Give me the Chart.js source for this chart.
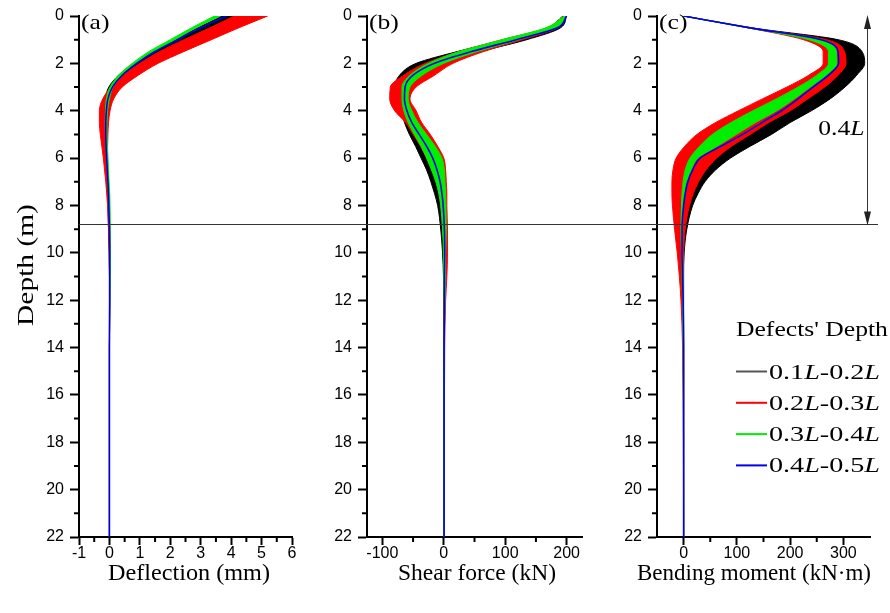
<!DOCTYPE html>
<html lang="en">
<head>
<meta charset="UTF-8">
<title>Deflection, shear force and bending moment along depth</title>
<script src="https://cdn.jsdelivr.net/npm/chart.js@4/dist/chart.umd.min.js"></script>
<style>
  html, body { margin: 0; padding: 0; background: #fff; }
  #wrap { position: relative; width: 890px; height: 613px; overflow: hidden; }
  .panel { position: absolute; top: 0; height: 613px; }
  #pa { left: 0; width: 300px; }
  #pb { left: 300px; width: 300px; }
  #pc { left: 600px; width: 290px; }
</style>
</head>
<body>
<div id="wrap">
  <div class="panel" id="pa"><canvas id="chartA"></canvas></div>
  <div class="panel" id="pb"><canvas id="chartB"></canvas></div>
  <div class="panel" id="pc"><canvas id="chartC"></canvas></div>
</div>
<script>
// depth of every sampled point (m), shared by all curves
const depths = [0, 0.5, 1, 1.5, 2, 2.5, 3, 3.5, 4, 4.5, 5, 5.5, 6, 6.5, 7, 7.5, 8, 9, 10, 11, 12, 14, 22];

// (a) deflection (mm): left / right edge of each band of curves, blue is a single line
const defBlackL = [3.7, 2.9, 2.15, 1.4, 0.8, 0.3, -0.02, -0.13, -0.16, -0.17, -0.17, -0.15, -0.13, -0.11, -0.09, -0.07, -0.05, -0.03, -0.01, 0, 0, 0, 0];
const defBlackR = [4.8, 3.9, 3.05, 2.2, 1.4, 0.78, 0.3, 0.06, -0.04, -0.07, -0.08, -0.08, -0.07, -0.06, -0.05, -0.04, -0.03, -0.01, 0.01, 0.01, 0.01, 0, 0];
const defRedL = [4.1, 3.3, 2.45, 1.65, 1.0, 0.45, 0.05, -0.22, -0.33, -0.33, -0.3, -0.25, -0.2, -0.16, -0.12, -0.09, -0.06, -0.03, -0.01, 0, 0, 0, 0];
const defRedR = [5.2, 4.25, 3.35, 2.45, 1.6, 0.95, 0.42, 0.14, 0.02, -0.03, -0.05, -0.06, -0.06, -0.05, -0.04, -0.03, -0.02, 0, 0.01, 0.01, 0.01, 0, 0];
const defGreenL = [3.45, 2.7, 2.0, 1.3, 0.75, 0.3, 0.02, -0.1, -0.13, -0.14, -0.13, -0.11, -0.09, -0.07, -0.05, -0.03, -0.01, 0.01, 0.02, 0.02, 0.01, 0, 0];
const defGreenR = [3.65, 2.85, 2.15, 1.45, 0.88, 0.42, 0.12, 0.0, -0.06, -0.08, -0.08, -0.07, -0.05, -0.03, -0.01, 0.01, 0.02, 0.03, 0.03, 0.02, 0.01, 0, 0];
const defBlue = [3.85, 3.0, 2.25, 1.5, 0.9, 0.42, 0.1, -0.05, -0.1, -0.12, -0.12, -0.11, -0.09, -0.07, -0.05, -0.03, -0.02, 0, 0.01, 0.01, 0.01, 0, 0];

// (b) shear force (kN)
const shearBlackL = [194, 168, 100, 22, -45, -72, -79, -76, -70, -64, -56, -46, -37, -28, -21, -15, -10, -5, -2, -0.5, 0, 0, 0];
const shearBlackR = [200, 190, 135, 60, -5, -40, -58, -62, -60, -50, -40, -30, -20, -13, -8, -4, -2, 0, 1, 1.5, 1.5, 1, 0.5];
const shearRedL = [195, 168, 95, 25, -30, -65, -87, -88, -80, -62, -50, -38, -28, -19, -12, -8, -5, -2, 0, 0, 0.5, 0.5, 0.5];
const shearRedR = [199, 186, 128, 65, 15, -15, -45, -55, -45, -36, -22, -10, 0, 3, 4, 5, 5, 6, 6, 5, 3, 1.5, 0.5];
const shearGreenL = [196, 166, 95, 25, -25, -55, -68, -68, -65, -58, -48, -37, -28, -20, -13, -8, -5, -2, -0.5, 0, 0.5, 0.5, 0.5];
const shearGreenR = [199, 182, 122, 55, 0, -35, -55, -58, -52, -42, -28, -14, -3, 1, 2, 3, 3.5, 4, 3, 2.5, 2, 1, 0.5];
const shearBlue = [200, 185, 118, 45, -15, -50, -63, -64, -60, -52, -40, -28, -18, -11, -6, -3, -1, 1, 1.5, 1, 1, 0.5, 0.5];

// (c) bending moment (kN·m)
const momBlackL = [0, 122, 240, 265, 265, 245, 210, 170, 130, 90, 60, 38, 22, 12, 5, 0, -3, -6, -6, -4, -2, -0.5, 0];
const momBlackR = [0, 128, 290, 335, 340, 325, 303, 275, 240, 200, 165, 125, 88, 60, 40, 27, 17, 6, 1, 0, 0, 0, 0];
const momRedL = [0, 121, 225, 262, 262, 235, 194, 148, 103, 60, 25, 2, -14, -20, -22, -22, -21, -17, -12, -8, -5, -2, 0];
const momRedR = [0, 127, 268, 302, 305, 290, 265, 233, 200, 160, 125, 90, 62, 42, 28, 18, 11, 3, 0, -1, -1, 0, 0];
const momGreenL = [0, 122, 235, 272, 272, 250, 215, 174, 130, 89, 54, 30, 12, 3, -1, -3, -4, -5, -4, -3, -2, -1, 0];
const momGreenR = [0, 126, 255, 287, 288, 268, 238, 208, 175, 135, 99, 63, 27, 14, 5, 1, -1, -2, -2, -1, -1, 0, 0];
const momBlue = [0, 125, 258, 290, 291, 272, 243, 215, 184, 147, 111, 70, 31, 17, 8, 3, 0, -3, -3, -2, -1, 0, 0];

// axis ticks
const depthTicks = [0, 2, 4, 6, 8, 10, 12, 14, 16, 18, 20, 22];
const depthMinor = [1, 3, 5, 7, 9, 11, 13, 15, 17, 19, 21];
const defTicks = [-1, 0, 1, 2, 3, 4, 5, 6];
const defMinor = [-0.5, 0.5, 1.5, 2.5, 3.5, 4.5, 5.5];
const shearTicks = [-100, 0, 100, 200];
const shearMinor = [-50, 50, 150];
const momTicks = [0, 100, 200, 300];
const momMinor = [50, 150, 250];

const legendTitle = "Defects' Depth";
const legendItems = [
  [['0.1', false], ['L', true], ['-0.2', false], ['L', true]],
  [['0.2', false], ['L', true], ['-0.3', false], ['L', true]],
  [['0.3', false], ['L', true], ['-0.4', false], ['L', true]],
  [['0.4', false], ['L', true], ['-0.5', false], ['L', true]]
];
const cBlack = '#000000', cRed = '#ff0000', cGreen = '#00ee00', cBlue = '#0000ee';
const legendColors = ['#555555', cRed, cGreen, cBlue];
const pileLine = 8.8;   // 0.4L

const SERIF = '"Liberation Serif", "Times New Roman", serif';
const SANS = '"Liberation Sans", Arial, sans-serif';

function pts(vals) { return depths.map((d, i) => ({ x: vals[i], y: d })); }
// chart.js draws lower "order" on top: black at the back, blue in front
function band(L, R, color, order) {
  return [
    { data: pts(L), borderColor: color, borderWidth: 1, pointRadius: 0, fill: false, order: order },
    { data: pts(R), borderColor: color, borderWidth: 1, pointRadius: 0, fill: '-1', backgroundColor: color, order: order }
  ];
}
function single(V, color) {
  return { data: pts(V), borderColor: color, borderWidth: 1.6, pointRadius: 0, fill: false, order: 0 };
}

// serif text with italic parts; sx widens it, or fitW forces a width
function serifText(ctx, parts, x, y, size, align, sx, rot, fitW) {
  ctx.save();
  ctx.fillStyle = '#000';
  ctx.textBaseline = 'alphabetic';
  ctx.textAlign = 'left';
  const widths = parts.map(p => {
    ctx.font = (p[1] ? 'italic ' : '') + size + 'px ' + SERIF;
    return ctx.measureText(p[0]).width;
  });
  const raw = widths.reduce((a, b) => a + b, 0);
  if (fitW) sx = fitW / raw;
  const total = raw * sx;
  const start = align === 'right' ? -total : (align === 'center' ? -total / 2 : 0);
  ctx.translate(x, y);
  if (rot) ctx.rotate(rot);
  ctx.translate(start, 0);
  ctx.scale(sx, 1);
  let cx = 0;
  parts.forEach((p, i) => {
    ctx.font = (p[1] ? 'italic ' : '') + size + 'px ' + SERIF;
    ctx.fillText(p[0], cx, 0);
    cx += widths[i];
  });
  ctx.restore();
}

const minorTicks = {
  id: 'minorTicks',
  afterDraw(chart, args, opts) {
    const { ctx, scales: { x, y } } = chart;
    ctx.save();
    ctx.strokeStyle = '#000';
    ctx.lineWidth = 2;
    ctx.beginPath();
    opts.xMinor.forEach(v => {
      const px = x.getPixelForValue(v);
      ctx.moveTo(px, x.top);
      ctx.lineTo(px, x.top + 5);
    });
    depthMinor.forEach(v => {
      const py = y.getPixelForValue(v);
      ctx.moveTo(y.right, py);
      ctx.lineTo(y.right - 5, py);
    });
    ctx.stroke();
    ctx.restore();
  }
};

const extras = {
  id: 'extras',
  afterDatasetsDraw(chart, args, opts) {
    const { ctx, chartArea, scales: { y } } = chart;
    // 0.4L reference line across the panels
    const py = Math.round(y.getPixelForValue(pileLine)) + 0.5;
    ctx.save();
    ctx.strokeStyle = '#333';
    ctx.lineWidth = 1;
    ctx.beginPath();
    ctx.moveTo(opts.lineFrom === 'axis' ? chartArea.left : 0, py);
    ctx.lineTo(opts.lineTo, py);
    ctx.stroke();
    ctx.restore();
  },
  afterDraw(chart, args, opts) {
    const { ctx, chartArea, scales: { x, y } } = chart;
    serifText(ctx, [[opts.label, false]], chartArea.left + 2, 29, 21, 'left', 1.22);
    // axis titles
    serifText(ctx, [[opts.xTitle, false]], opts.xTitleX, 580, 24, 'center', 1, 0, opts.xTitleW);
    if (opts.yTitle) {
      serifText(ctx, [[opts.yTitle, false]], 33, 265, 23, 'center', 1.28, -Math.PI / 2);
    }
    if (!opts.legend) return;
    // double arrow for 0.4L
    const ax = Math.round(x.getPixelForValue(344)) + 0.5;
    const y0 = y.getPixelForValue(0), y1 = y.getPixelForValue(pileLine);
    ctx.save();
    ctx.strokeStyle = '#333';
    ctx.fillStyle = '#222';
    ctx.lineWidth = 1;
    ctx.beginPath();
    ctx.moveTo(ax, y0 + 10);
    ctx.lineTo(ax, y1 - 10);
    ctx.stroke();
    ctx.beginPath();
    ctx.moveTo(ax, y0 - 1); ctx.lineTo(ax - 3.5, y0 + 13); ctx.lineTo(ax + 3.5, y0 + 13); ctx.closePath();
    ctx.moveTo(ax, y1 + 1); ctx.lineTo(ax - 3.5, y1 - 13); ctx.lineTo(ax + 3.5, y1 - 13); ctx.closePath();
    ctx.fill();
    ctx.restore();
    serifText(ctx, [['0.4', false], ['L', true]], ax - 3, 135, 21, 'right', 1.22);
    // legend
    serifText(ctx, [[legendTitle, false]], 136, 336, 21, 'left', 1.22);
    legendItems.forEach((item, i) => {
      const ly = 371.5 + i * 31.3;
      ctx.save();
      ctx.strokeStyle = legendColors[i];
      ctx.lineWidth = 2;
      ctx.beginPath();
      ctx.moveTo(136, ly);
      ctx.lineTo(167, ly);
      ctx.stroke();
      ctx.restore();
      serifText(ctx, item, 169, ly + 7, 21, 'left', 1.34);
    });
  }
};

function makePanel(id, p) {
  return new Chart(document.getElementById(id), {
    type: 'line',
    data: {
      datasets: [
        ...band(p.blackL, p.blackR, cBlack, 4),
        ...band(p.redL, p.redR, cRed, 3),
        ...band(p.greenL, p.greenR, cGreen, 2),
        single(p.blue, cBlue)
      ]
    },
    options: {
      indexAxis: 'y',
      responsive: true,
      maintainAspectRatio: false,
      animation: false,
      devicePixelRatio: 1,
      layout: { padding: { top: 16, right: p.padRight, left: 0, bottom: 0 } },
      elements: { line: { cubicInterpolationMode: 'monotone' } },
      plugins: {
        legend: { display: false },
        tooltip: { enabled: false },
        minorTicks: { xMinor: p.xMinor },
        extras: {
          label: p.label, lineFrom: p.lineFrom, lineTo: p.lineTo, legend: p.legend, yTitle: p.yTitle,
          xTitle: p.xTitle, xTitleX: p.xTitleX, xTitleW: p.xTitleW
        }
      },
      scales: {
        x: {
          type: 'linear',
          position: 'bottom',
          min: p.xMin,
          max: p.xMax,
          afterBuildTicks: s => { s.ticks = p.xTicks.map(v => ({ value: v })); },
          afterFit: s => { s.height = 76; },
          grid: { drawOnChartArea: false, drawTicks: true, tickLength: 8, tickWidth: 2, tickColor: '#000' },
          border: { display: true, color: '#000', width: 2 },
          ticks: { color: '#000', padding: -1, font: { family: SANS, size: 16 } }
        },
        y: {
          type: 'linear',
          position: 'left',
          reverse: true,
          min: 0,
          max: 22,
          afterBuildTicks: s => { s.ticks = depthTicks.map(v => ({ value: v })); },
          afterFit: s => { s.width = p.yWidth; },
          grid: { drawOnChartArea: false, drawTicks: true, tickLength: 9, tickWidth: 2, tickColor: '#000' },
          border: { display: true, color: '#000', width: 2 },
          ticks: { color: '#000', padding: 6, font: { family: SANS, size: 16 } }
        }
      }
    },
    plugins: [minorTicks, extras]
  });
}

makePanel('chartA', {
  blackL: defBlackL, blackR: defBlackR, redL: defRedL, redR: defRedR,
  greenL: defGreenL, greenR: defGreenR, blue: defBlue,
  xMin: -1, xMax: 6, xTicks: defTicks, xMinor: defMinor,
  xTitle: 'Deflection (mm)', xTitleX: 189, xTitleW: 162,
  yTitle: 'Depth (m)', yWidth: 79, padRight: 8,
  label: '(a)', lineFrom: 'axis', lineTo: 300, legend: false
});
makePanel('chartB', {
  blackL: shearBlackL, blackR: shearBlackR, redL: shearRedL, redR: shearRedR,
  greenL: shearGreenL, greenR: shearGreenR, blue: shearBlue,
  xMin: -125, xMax: 225, xTicks: shearTicks, xMinor: shearMinor,
  xTitle: 'Shear force (kN)', xTitleX: 177, xTitleW: 158,
  yTitle: '', yWidth: 67, padRight: 18,
  label: '(b)', lineFrom: 'edge', lineTo: 300, legend: false
});
makePanel('chartC', {
  blackL: momBlackL, blackR: momBlackR, redL: momRedL, redR: momRedR,
  greenL: momGreenL, greenR: momGreenR, blue: momBlue,
  xMin: -50, xMax: 350, xTicks: momTicks, xMinor: momMinor,
  xTitle: 'Bending moment (kN·m)', xTitleX: 154, xTitleW: 234,
  yTitle: '', yWidth: 57, padRight: 20,
  label: '(c)', lineFrom: 'edge', lineTo: 278, legend: true
});
</script>
</body>
</html>
